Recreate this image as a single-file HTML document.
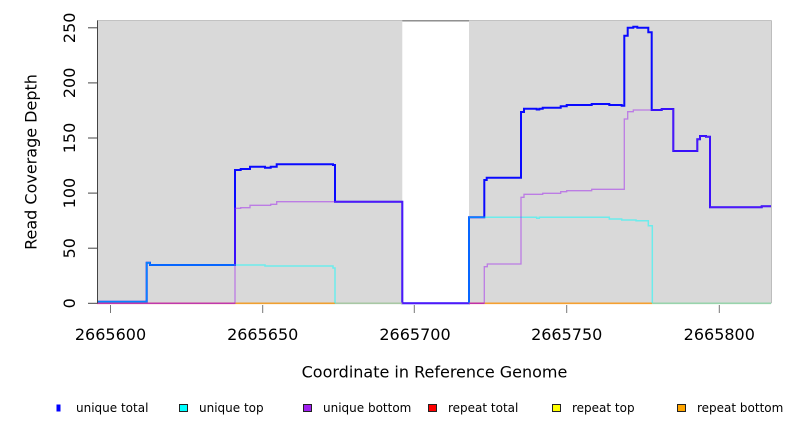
<!DOCTYPE html>
<html>
<head>
<meta charset="utf-8">
<style>
  html, body { margin: 0; padding: 0; background: #ffffff; }
  svg { display: block; }
  text { font-family: "DejaVu Sans", "Liberation Sans", sans-serif; fill: #000; }
</style>
</head>
<body>
<svg width="792" height="432" viewBox="0 0 792 432" xmlns="http://www.w3.org/2000/svg">
  <!-- plot backgrounds -->
  <rect x="97" y="20.5" width="305.3" height="282.8" fill="#d9d9d9"/>
  <rect x="469" y="20.5" width="302.5" height="282.8" fill="#d9d9d9"/>
  <!-- top/right borders -->
  <line x1="97" y1="20.5" x2="771.5" y2="20.5" stroke="#c2c2c2" stroke-width="1"/>
  <line x1="402.3" y1="20.8" x2="469" y2="20.8" stroke="#8a8a8a" stroke-width="1.3"/>
  <line x1="771.5" y1="20.5" x2="771.5" y2="303.3" stroke="#bdbdbd" stroke-width="1"/>

  <!-- unique total (blue) -->
  <path fill="none" stroke="#0a0aff" stroke-width="2" stroke-linejoin="miter"
    d="M97,301.7 H146.7 V262.7 H150 V265 H235 V170 H240.7 V169 H250 V166.7 H265 V167.7 H270.7 V166.7 H276.7 V164.3 H333 V165 H335 V201.7 H402.3 V303.3 H469 V217.3 H484.3 V180 H486.7 V177.7 H521 V112 H524 V108.7 H536.7 V109.5 H539.3 V108.7 H542.7 V107.7 H560.7 V106.3 H566.7 V105 H591.7 V104 H609.3 V105 H621.7 V105.7 H624.3 V35.7 H627.7 V27.7 H633.3 V26.7 H637.3 V27.7 H648.3 V32.3 H651.7 V110 H661.7 V109 H673.3 V151 H697.3 V139.3 H700 V136 H706 V136.7 H710 V207.3 H761.7 V206.3 H771"/>

  <!-- zero lines (repeat series etc.) -->
  <g stroke-width="1.6" fill="none">
    <line x1="97" y1="303.3" x2="235" y2="303.3" stroke="#e0506a"/>
    <line x1="235" y1="303.3" x2="335" y2="303.3" stroke="#f0a030"/>
    <line x1="335" y1="303.3" x2="402.3" y2="303.3" stroke="#a8c8a4"/>
    <line x1="469" y1="303.3" x2="484.3" y2="303.3" stroke="#e04060"/>
    <line x1="484.3" y1="303.3" x2="652.3" y2="303.3" stroke="#f5a030"/>
    <line x1="652.3" y1="303.3" x2="771" y2="303.3" stroke="#98d4ac"/>
  </g>

  <!-- unique top (cyan) -->
  <path fill="none" stroke="#00ffff" stroke-opacity="0.5" stroke-width="1.5"
    d="M97,301.7 H146.7 V262.7 H150 V265 H265 V266 H333 V268 H335 V303.3 M469,303.3 V217.3 H536.7 V218.3 H539.3 V217.3 H609.3 V219 H621.7 V220 H636 V220.7 H648.3 V225.7 H652.3 V303.3"/>

  <!-- unique bottom (purple) -->
  <path fill="none" stroke="#a020f0" stroke-opacity="0.5" stroke-width="1.3"
    d="M97,303.3 H235 V208.3 H240.7 V207.7 H250 V205.3 H270.7 V204.3 H276.7 V201.7 H402.3 V303.3 H484.3 V266.7 H487.3 V264 H521 V197.3 H524 V194.3 H542.7 V193.3 H560.7 V191.7 H566.7 V190.7 H591.7 V189.3 H624.3 V119 H627.7 V111.7 H633.3 V110 H661.7 V109 H673.3 V151 H697.3 V139.3 H700 V136 H706 V136.7 H710 V207.3 H761.7 V206.3 H771"/>

  <!-- y axis -->
  <line x1="97.5" y1="20.5" x2="97.5" y2="303.5" stroke="#444" stroke-width="1"/>
  <g stroke="#444" stroke-width="1">
    <line x1="88" y1="303.3" x2="97" y2="303.3"/>
    <line x1="88" y1="248.2" x2="97" y2="248.2"/>
    <line x1="88" y1="193.1" x2="97" y2="193.1"/>
    <line x1="88" y1="138" x2="97" y2="138"/>
    <line x1="88" y1="82.9" x2="97" y2="82.9"/>
    <line x1="88" y1="27.8" x2="97" y2="27.8"/>
  </g>
  <g font-size="16" text-anchor="middle">
    <text transform="translate(75,303.3) rotate(-90)">0</text>
    <text transform="translate(75,248.2) rotate(-90)">50</text>
    <text transform="translate(75,193.1) rotate(-90)">100</text>
    <text transform="translate(75,138) rotate(-90)">150</text>
    <text transform="translate(75,82.9) rotate(-90)">200</text>
    <text transform="translate(75,27.8) rotate(-90)">250</text>
    <text transform="translate(36.5,162) rotate(-90)">Read Coverage Depth</text>
  </g>

  <!-- x axis ticks -->
  <g stroke="#777" stroke-width="1">
    <line x1="110.5" y1="305" x2="110.5" y2="313"/>
    <line x1="262.7" y1="305" x2="262.7" y2="313"/>
    <line x1="414.3" y1="305" x2="414.3" y2="313"/>
    <line x1="566.7" y1="305" x2="566.7" y2="313"/>
    <line x1="719.3" y1="305" x2="719.3" y2="313"/>
  </g>
  <g font-size="16" text-anchor="middle">
    <text x="110.5" y="340">2665600</text>
    <text x="262.7" y="340">2665650</text>
    <text x="415" y="340">2665700</text>
    <text x="566.7" y="340">2665750</text>
    <text x="719.3" y="340">2665800</text>
    <text x="434.5" y="377.7">Coordinate in Reference Genome</text>
  </g>

  <!-- legend -->
  <rect x="56.5" y="404.5" width="4" height="7" fill="#0000ff"/>
  <rect x="179.5" y="404.5" width="8" height="7" fill="#00ffff" stroke="#222" stroke-width="1"/>
  <rect x="303.5" y="404.5" width="8" height="7" fill="#a020f0" stroke="#222" stroke-width="1"/>
  <rect x="428.5" y="404.5" width="8" height="7" fill="#ff0000" stroke="#222" stroke-width="1"/>
  <rect x="552.5" y="404.5" width="8" height="7" fill="#ffff00" stroke="#222" stroke-width="1"/>
  <rect x="677.5" y="404.5" width="8" height="7" fill="#ffa500" stroke="#222" stroke-width="1"/>
  <g font-size="12">
    <text x="76" y="412">unique total</text>
    <text x="199" y="412">unique top</text>
    <text x="323" y="412">unique bottom</text>
    <text x="448" y="412">repeat total</text>
    <text x="572" y="412">repeat top</text>
    <text x="697" y="412">repeat bottom</text>
  </g>
</svg>
</body>
</html>
